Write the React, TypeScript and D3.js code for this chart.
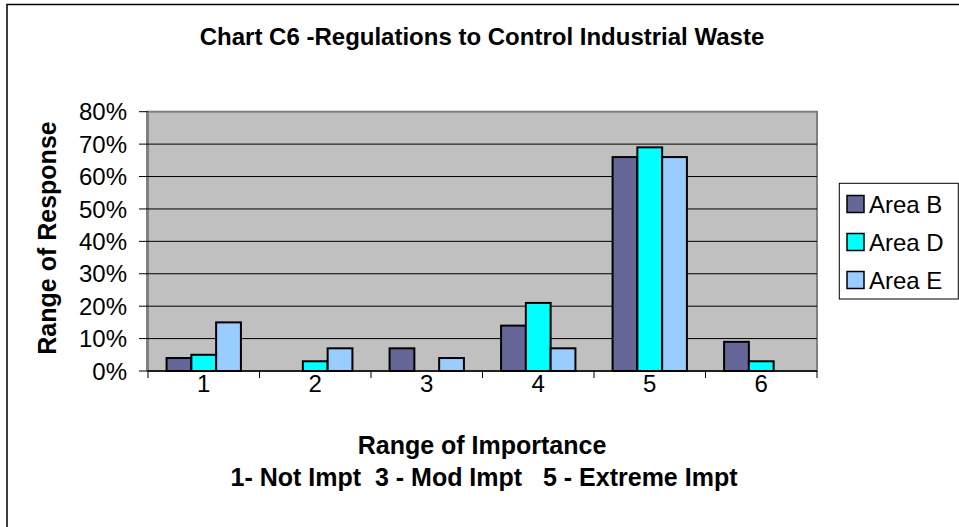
import React from "react";
import * as d3 from "d3";

const categories = ["1", "2", "3", "4", "5", "6"];
const seriesNames = ["Area B", "Area D", "Area E"];
const areaB = [4, 0, 7, 14, 66, 9];
const areaD = [5, 3, 0, 21, 69, 3];
const areaE = [15, 7, 4, 7, 66, 0];
const seriesValues = [areaB, areaD, areaE];
const seriesColors = ["#666699", "#00FFFF", "#99CCFF"];
const yTicks = [0, 10, 20, 30, 40, 50, 60, 70, 80];

const titleText = "Chart C6 -Regulations to Control Industrial Waste";
const yTitle = "Range of Response";
const xTitle = "Range of Importance";
const xSubTitle = "1- Not Impt  3 - Mod Impt   5 - Extreme Impt";

const W = 959;
const H = 527;
const plot = { left: 148, right: 817, top: 111.7, bottom: 371 };
const FONT = "'Liberation Sans', Arial, sans-serif";

export default function App() {
  const x = d3.scaleBand<string>().domain(categories).range([plot.left, plot.right]).paddingInner(0).paddingOuter(0);
  const xi = d3.scaleBand<string>().domain(seriesNames).range([0, x.bandwidth()]).paddingInner(0).paddingOuter(0.75);
  const y = d3.scaleLinear().domain([0, 80]).range([plot.bottom, plot.top]);

  const boundaries = categories.map((c) => x(c)!).concat([plot.right]);

  return (
    <svg width={W} height={H} style={{ position: "absolute", left: 0, top: 0, background: "#fff" }} fontFamily={FONT}>
      <rect x={0} y={0} width={W} height={H} fill="#fff" />
      {/* chart border (cropped on right/bottom) */}
      <rect x={7} y={4.5} width={W + 20} height={H + 20} fill="none" stroke="#000" strokeWidth={1.5} />

      {/* title */}
      <text x={482} y={44.5} textAnchor="middle" fontWeight="bold" fontSize={24} fill="#000">
        {titleText}
      </text>

      {/* plot area */}
      <rect x={plot.left} y={plot.top} width={plot.right - plot.left} height={plot.bottom - plot.top} fill="#C0C0C0" stroke="#808080" strokeWidth={2} />

      {/* gridlines */}
      {yTicks.slice(1, -1).map((t) => (
        <line key={"g" + t} x1={plot.left} x2={plot.right} y1={y(t)} y2={y(t)} stroke="#000" strokeWidth={1} />
      ))}

      {/* bars */}
      {categories.map((c, ci) => (
        <g key={"c" + c}>
          {seriesNames.map((s, si) => {
            const v = seriesValues[si][ci];
            if (v <= 0) return null;
            return (
              <rect
                key={s}
                x={x(c)! + xi(s)!}
                y={y(v)}
                width={xi.bandwidth()}
                height={y(0) - y(v)}
                fill={seriesColors[si]}
                stroke="#000"
                strokeWidth={2}
              />
            );
          })}
        </g>
      ))}

      {/* y axis */}
      <line x1={plot.left - 1} x2={plot.left - 1} y1={plot.top} y2={plot.bottom} stroke="#808080" strokeWidth={2} />
      {yTicks.map((t) => (
        <g key={"yt" + t}>
          <line x1={plot.left - 9} x2={plot.left} y1={y(t)} y2={y(t)} stroke="#000" strokeWidth={1} />
          <text x={127} y={y(t)} dy="0.36em" textAnchor="end" fontSize={24} fill="#000">
            {t + "%"}
          </text>
        </g>
      ))}

      {/* x axis */}
      <line x1={plot.left} x2={plot.right} y1={plot.bottom} y2={plot.bottom} stroke="#000" strokeWidth={1.5} />
      {boundaries.map((bx, i) => (
        <line key={"xt" + i} x1={bx} x2={bx} y1={plot.bottom} y2={plot.bottom + 7} stroke="#000" strokeWidth={1} />
      ))}
      {categories.map((c) => (
        <text key={"xl" + c} x={x(c)! + x.bandwidth() / 2} y={392} textAnchor="middle" fontSize={24} fill="#000">
          {c}
        </text>
      ))}

      {/* axis titles */}
      <text transform={`translate(56,238) rotate(-90)`} textAnchor="middle" fontWeight="bold" fontSize={25} fill="#000">
        {yTitle}
      </text>
      <text x={482} y={454} textAnchor="middle" fontWeight="bold" fontSize={25} fill="#000">
        {xTitle}
      </text>
      <text x={484} y={486} textAnchor="middle" fontWeight="bold" fontSize={25} fill="#000" style={{ whiteSpace: "pre" }}>
        {xSubTitle}
      </text>

      {/* legend */}
      <rect x={839.3} y={183.3} width={119} height={115.7} fill="#fff" stroke="#000" strokeWidth={1} />
      {seriesNames.map((s, i) => {
        const cy = 204 + i * 38;
        return (
          <g key={"lg" + s}>
            <rect x={847} y={cy - 8.5} width={17} height={17} fill={seriesColors[i]} stroke="#000" strokeWidth={1.5} />
            <text x={869} y={cy} dy="0.36em" fontSize={24} fill="#000">
              {s}
            </text>
          </g>
        );
      })}
    </svg>
  );
}
